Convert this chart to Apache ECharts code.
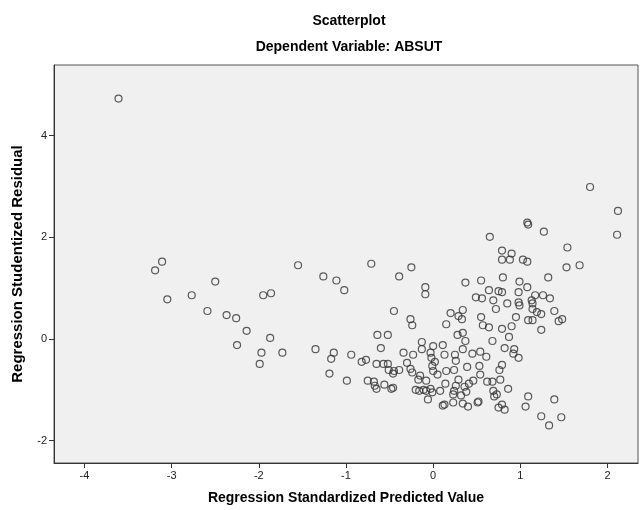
<!DOCTYPE html>
<html>
<head>
<meta charset="utf-8">
<script src="https://cdn.jsdelivr.net/npm/echarts@6/dist/echarts.min.js"></script>
<style>
html,body{margin:0;padding:0;background:#fff;}
#chart{width:642px;height:510px;}
</style>
</head>
<body>
<div id="chart"></div>
<script>
// Regression Standardized Predicted Value (x)
const predicted = [
 -3.61,-3.11,-3.19,-3.05,-2.50,-2.77,-2.59,-2.37,-2.26,-2.14,-2.25,
 -1.55,-1.26,-1.11,-1.02,-0.71,-1.95,-1.86,-1.87,-1.97,-1.99,-1.73,-1.35,-1.14,-1.17,-1.19,-0.94,-0.99,-0.82,-0.77,-0.65,-0.64,-0.60,-0.75,-0.68,-0.67,-0.65,
 0.65,-0.25,-0.39,-0.09,-0.09,0.37,0.55,0.79,0.79,0.64,0.75,0.49,0.56,0.69,0.72,-0.45,-0.26,-0.24,0.20,0.29,0.33,0.34,0.15,0.55,0.57,0.64,0.79,-0.52,0.28,0.34,0.68,-0.13,0.00,0.11,0.37,
 1.80,2.12,2.11,1.08,1.09,1.27,1.54,0.90,0.88,1.03,1.08,1.53,1.68,0.80,1.32,0.99,1.08,0.79,0.98,1.17,1.26,1.34,0.85,0.98,0.99,1.13,1.14,1.14,1.19,1.24,1.39,0.95,1.09,1.14,1.44,1.48,0.90,1.24,0.87,0.82,0.93,
 0.92,0.98,0.79,0.76,0.77,0.68,0.86,0.69,0.73,0.70,1.09,1.39,1.06,0.75,0.79,0.82,1.24,1.47,1.33,
 -0.13,0.13,0.34,0.25,0.26,0.45,0.54,0.61,-0.34,-0.23,-0.03,-0.02,0.02,-0.01,-0.57,-0.52,-0.51,-0.45,-0.46,-0.39,-0.30,-0.26,-0.24,-0.15,-0.17,-0.08,0.00,0.05,0.15,0.24,0.39,0.53,0.29,0.46,0.41,0.54,0.62,0.14,0.26,0.36,0.38,0.24,0.23,0.32,0.08,-0.03,-0.01,-0.11,-0.20,-0.16,-0.08,-0.06,0.13,0.11,0.23,0.34,0.40,0.51,0.52,-0.56,-0.48,-0.46
];
// Regression Studentized Residual (y)
const residual = [
 4.73,1.52,1.35,0.78,1.13,0.86,0.55,0.47,0.41,0.16,-0.12,
 1.45,1.23,1.15,0.96,1.48,0.86,0.90,0.02,-0.27,-0.49,-0.27,-0.20,-0.27,-0.39,-0.68,-0.31,-0.82,-0.45,-0.41,-0.49,0.08,-0.18,-0.82,-0.84,-0.92,-0.98,
 2.01,1.41,1.23,1.02,0.88,1.11,1.15,1.74,1.56,0.96,0.94,0.82,0.80,0.76,0.59,0.55,0.39,0.27,0.51,0.45,0.39,0.57,0.29,0.43,0.27,0.23,0.20,0.08,0.08,0.12,-0.04,-0.06,-0.14,-0.12,-0.04,
 2.99,2.52,2.05,2.29,2.25,2.11,1.80,1.68,1.56,1.56,1.52,1.41,1.45,1.21,1.21,1.13,1.02,0.92,0.92,0.86,0.86,0.80,0.70,0.72,0.66,0.76,0.70,0.59,0.53,0.49,0.55,0.43,0.37,0.37,0.35,0.39,0.25,0.18,0.04,-0.18,-0.20,
 -0.29,-0.37,-0.51,-0.61,-0.80,-0.84,-0.98,-1.02,-1.09,-1.13,-1.13,-1.19,-1.33,-1.35,-1.29,-1.39,-1.52,-1.54,-1.70,
 -0.20,-0.31,-0.20,-0.31,-0.43,-0.29,-0.25,-0.35,-0.27,-0.31,-0.27,-0.37,-0.45,-0.53,-0.49,-0.49,-0.61,-0.63,-0.68,-0.61,-0.47,-0.59,-0.66,-0.72,-0.80,-0.82,-0.63,-0.70,-0.63,-0.61,-0.55,-0.53,-0.80,-0.82,-0.88,-0.70,-0.84,-0.88,-0.92,-0.94,-1.04,-1.02,-1.09,-1.11,-1.02,-0.98,-1.05,-1.00,-1.00,-1.02,-1.02,-1.19,-1.29,-1.31,-1.25,-1.27,-1.33,-1.25,-1.23,-0.90,-0.98,-0.96
];
const xTicks = [-4, -3, -2, -1, 0, 1, 2];
const yTicks = [-2, 0, 2, 4];
const xRange = [-4.35, 2.35];
const yRange = [-2.44, 5.39];

const points = predicted.map((x, i) => [x, residual[i]]);
const font = 'Liberation Sans, Arial, sans-serif';
const boldText = {fontFamily: font, fontSize: 14, fontWeight: 'bold', color: '#000'};

const chart = echarts.init(document.getElementById('chart'), null, {renderer: 'canvas'});
chart.setOption({
  animation: false,
  backgroundColor: '#ffffff',
  title: [
    {text: 'Scatterplot', left: 344, top: 9, textAlign: 'center', textStyle: boldText},
    {text: 'Dependent Variable: ABSUT', left: 344, top: 35, textAlign: 'center', textStyle: boldText}
  ],
  grid: {left: 54, right: 4, top: 65, bottom: 44, show: true,
         backgroundColor: '#f0f0f0', borderColor: '#555', borderWidth: 1},
  xAxis: {
    type: 'value', min: xRange[0], max: xRange[1],
    name: 'Regression Standardized Predicted Value', nameLocation: 'middle', nameGap: 28,
    nameTextStyle: boldText,
    axisLine: {show: true, onZero: false, lineStyle: {color: '#333', width: 1}},
    axisTick: {show: true, length: 5, customValues: xTicks, lineStyle: {color: '#333'}},
    axisLabel: {customValues: xTicks, margin: 7, fontFamily: font, fontSize: 11, color: '#222'},
    splitLine: {show: false}
  },
  yAxis: {
    type: 'value', min: yRange[0], max: yRange[1],
    name: 'Regression Studentized Residual', nameLocation: 'middle', nameGap: 29, nameRotate: 90,
    nameTextStyle: {fontFamily: font, fontSize: 15, fontWeight: 'bold', color: '#000'},
    axisLine: {show: true, onZero: false, lineStyle: {color: '#333', width: 1}},
    axisTick: {show: true, length: 5, customValues: yTicks, lineStyle: {color: '#333'}},
    axisLabel: {customValues: yTicks, margin: 7, fontFamily: font, fontSize: 11, color: '#222'},
    splitLine: {show: false}
  },
  series: [{
    type: 'scatter',
    data: points,
    symbol: 'circle',
    symbolSize: 7,
    itemStyle: {color: 'rgba(0,0,0,0)', borderColor: '#333', borderWidth: 1.2},
    emphasis: {disabled: true}
  }]
});
</script>
</body>
</html>
